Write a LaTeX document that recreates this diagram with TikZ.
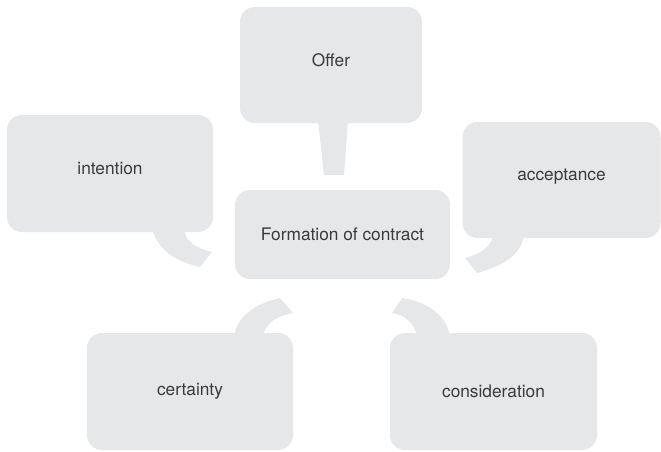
\documentclass[tikz,border=0pt]{standalone}
\usepackage{fontspec}
\setmainfont{TeX Gyre Heros}
\usepackage{tikz}
\definecolor{bubblegray}{HTML}{E6E7E8}
\definecolor{bubbletext}{HTML}{3A3A3A}

\begin{document}
\begin{tikzpicture}[x=1pt,y=-1pt,
  bubble/.style={fill=bubblegray,rounded corners=15pt,text=bubbletext,
    font=\fontsize{17.3}{20}\selectfont,inner sep=0pt},
  raised/.style={text depth=10pt},
  tail/.style={fill=bubblegray,draw=none}]
\useasboundingbox (0,0) rectangle (661,451);
% the boxes
\node[bubble,raised,minimum width=182pt,minimum height=116pt] (offer) at (331,65) {Offer};
\node[bubble,minimum width=215pt,minimum height=89pt] (contract) at (342.5,234.5) {Formation of contract};
\node[bubble,raised,minimum width=206pt,minimum height=117pt] (intention) at (110,173.5) {intention};
\node[bubble,raised,minimum width=198pt,minimum height=116pt] (acceptance) at (561.5,180) {acceptance};
\node[bubble,minimum width=206pt,minimum height=117pt] (certainty) at (190,391.5) {certainty};
\node[bubble,minimum width=207pt,minimum height=117pt] (consideration) at (493.5,391.5) {consideration};
% the tails
\fill[tail] (318,120) -- (348,120) -- (344,175) -- (324,175) -- cycle;
\fill[tail] (153,228) -- (153,232) .. controls (160,252) and (178,262) .. (200,267)
  -- (212,252) .. controls (196,248) and (185,242) .. (184,228) -- cycle;
\fill[tail] (493,236) .. controls (490,248) and (480,254) .. (465,258)
  -- (477,273) .. controls (505,265) and (520,255) .. (524,236) -- cycle;
\fill[tail] (234,336) .. controls (238,314) and (258,303) .. (280,298)
  -- (293,313) .. controls (278,316) and (266,322) .. (263,336) -- cycle;
\fill[tail] (417,336) .. controls (414,322) and (404,315) .. (392,313)
  -- (402,298) .. controls (428,302) and (446,315) .. (450,336) -- cycle;
\end{tikzpicture}
\end{document}
